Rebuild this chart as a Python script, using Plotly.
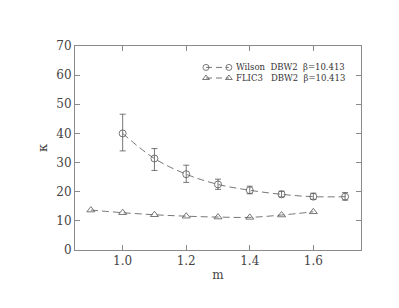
import plotly.graph_objects as go

wilson_m = [1.0, 1.1, 1.2, 1.3, 1.4, 1.5, 1.6, 1.7]
wilson_k = [40.0, 31.4, 26.0, 22.5, 20.5, 19.1, 18.3, 18.3]
wilson_hi = [46.6, 34.8, 29.1, 24.3, 21.9, 20.2, 19.5, 19.7]
wilson_lo = [34.0, 27.3, 23.2, 20.8, 19.3, 18.2, 17.4, 17.1]

flic_m = [0.9, 1.0, 1.1, 1.2, 1.3, 1.4, 1.5, 1.6]
flic_k = [13.7, 12.8, 12.1, 11.6, 11.3, 11.2, 12.0, 13.1]

x_ticks = [1.0, 1.2, 1.4, 1.6]
y_ticks = [0, 10, 20, 30, 40, 50, 60, 70]

legend_labels = ["Wilson  DBW2  \u03b2=10.413", "FLIC3   DBW2  \u03b2=10.413"]

ink = "#555555"
axc = "#8a8a8a"
font = "DejaVu Serif"

fig = go.Figure()
fig.add_trace(go.Scatter(
    x=wilson_m, y=wilson_k, mode="lines+markers", showlegend=False,
    line=dict(color=ink, width=0.8, dash="7px,4px", shape="spline"),
    marker=dict(symbol="circle-open", size=7, color=ink, line=dict(width=0.8)),
    error_y=dict(type="data", symmetric=False,
                 array=[h - v for h, v in zip(wilson_hi, wilson_k)],
                 arrayminus=[v - l for l, v in zip(wilson_lo, wilson_k)],
                 color=ink, thickness=0.8, width=3),
))
fig.add_trace(go.Scatter(
    x=flic_m, y=flic_k, mode="lines+markers", showlegend=False,
    line=dict(color=ink, width=0.8, dash="7px,4px", shape="spline"),
    marker=dict(symbol="triangle-up-open", size=7, color=ink, line=dict(width=0.8)),
))

# manual legend (compact row spacing like the original)
leg_x0, leg_x1, leg_tx = 0.458, 0.538, 0.556
leg_rows = [0.895, 0.843]
leg_syms = ["circle-open", "triangle-up-open"]
for lab, yy, sym in zip(legend_labels, leg_rows, leg_syms):
    fig.add_trace(go.Scatter(
        x=[leg_x0, leg_x1], y=[yy, yy], xaxis="x2", yaxis="y2",
        mode="lines+markers", showlegend=False, hoverinfo="skip",
        line=dict(color=ink, width=0.8, dash="6px,4px"),
        marker=dict(symbol=sym, size=6, color=ink, line=dict(width=0.8)),
    ))
    fig.add_annotation(x=leg_tx, y=yy, xref="paper", yref="paper", text=lab,
                       showarrow=False, xanchor="left", yanchor="middle",
                       font=dict(size=8.5, family=font, color="#333333"))

fig.update_layout(
    width=391, height=300,
    margin=dict(l=67, r=38, t=38, b=58),
    paper_bgcolor="white", plot_bgcolor="white",
    font=dict(family=font, size=12, color="#444444"),
    showlegend=False,
    xaxis=dict(range=[0.85, 1.75], tickvals=x_ticks, ticktext=["1.0", "1.2", "1.4", "1.6"],
               ticks="inside", ticklen=5, tickcolor=axc, showline=True, linecolor=axc,
               linewidth=1, mirror="ticks", showgrid=False, zeroline=False,
               title=dict(text="m", standoff=3, font=dict(size=12)),
               tickfont=dict(size=12)),
    yaxis=dict(range=[0, 70], tickvals=y_ticks, ticks="inside", ticklen=5, tickcolor=axc,
               showline=True, linecolor=axc, linewidth=1, mirror="ticks",
               showgrid=False, zeroline=False,
               title=dict(text="\u03ba", standoff=5, font=dict(size=13)),
               tickfont=dict(size=12)),
    xaxis2=dict(range=[0, 1], overlaying="x", visible=False, fixedrange=True),
    yaxis2=dict(range=[0, 1], overlaying="y", visible=False, fixedrange=True),
)

fig.write_html("out.html")
